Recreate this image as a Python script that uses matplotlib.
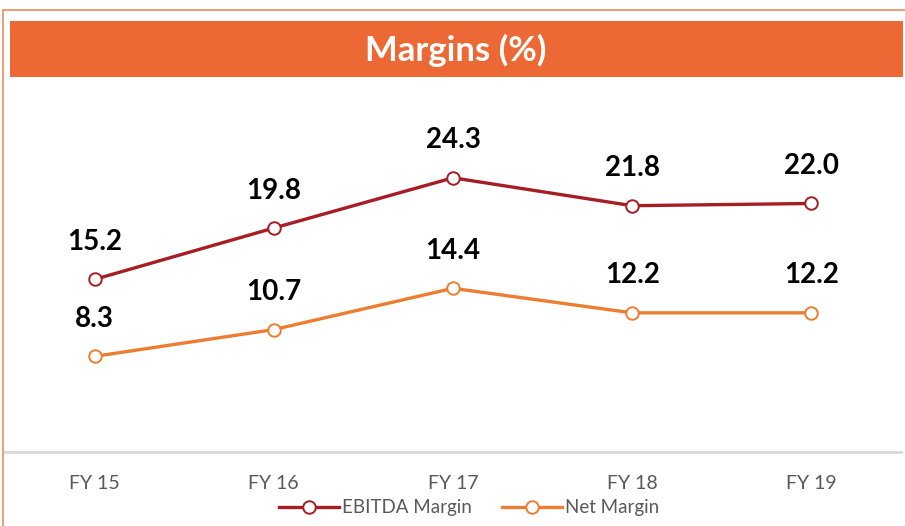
import matplotlib.pyplot as plt
from matplotlib.patches import Rectangle
from matplotlib.lines import Line2D

years = ["FY 15", "FY 16", "FY 17", "FY 18", "FY 19"]
ebitda = [15.2, 19.8, 24.3, 21.8, 22.0]
net = [8.3, 10.7, 14.4, 12.2, 12.2]

plt.rcParams['font.family'] = ['Lato', 'DejaVu Sans']

W, H = 905, 526
fig = plt.figure(figsize=(W / 100, H / 100), dpi=100)

# frame lines and title banner
fig.add_artist(Line2D([3 / W, 1], [1 - 10 / H, 1 - 10 / H], color="#EE8A5E", lw=1.2))
fig.add_artist(Line2D([3 / W, 3 / W], [0, 1 - 10 / H], color="#EE8A5E", lw=1.2))
fig.add_artist(Rectangle((10 / W, 1 - 77 / H), 893 / W, 56 / H, color="#EC6935", lw=0))
fig.text(456 / W, 1 - 50 / H, "Margins (%)", color="white", fontsize=25,
         fontweight="bold", ha="center", va="center")

# axes: 0 at y=449px, 11.16 px per unit
ymax = 30
ax = fig.add_axes([5 / W, (H - 449) / H, 896 / W, ymax * 11.16 / H])
ax.spines["bottom"].set_position(("data", -0.25))
x = range(len(years))
ax.plot(x, ebitda, color="#A61D24", lw=2.4, marker="o", ms=9,
        mfc="white", mec="#A61D24", mew=1.4, label="EBITDA Margin", clip_on=False)
ax.plot(x, net, color="#ED7D31", lw=2.4, marker="o", ms=9,
        mfc="white", mec="#ED7D31", mew=1.4, label="Net Margin", clip_on=False)

for series in (ebitda, net):
    for i, v in enumerate(series):
        ax.annotate(f"{v:.1f}", (i, v), xytext=(0, 27), textcoords="offset points",
                    ha="center", va="center", fontsize=20, fontweight="bold",
                    color="black", annotation_clip=False)

ax.set_xlim(-0.5, 4.5)
ax.set_ylim(0, ymax)
ax.set_xticks(list(x))
ax.set_xticklabels(years, fontsize=14, color="#595959")
ax.tick_params(axis="x", length=0, pad=17)
ax.set_yticks([])
for s in ["top", "right", "left"]:
    ax.spines[s].set_visible(False)
ax.spines["bottom"].set_color("#D9D9D9")
ax.spines["bottom"].set_linewidth(2)
ax.patch.set_alpha(0)

fig.legend(loc="center", bbox_to_anchor=(469 / W, 1 - 508 / H), ncol=2,
           frameon=False, fontsize=13.5, handlelength=3.2, columnspacing=1.6,
           handletextpad=0.15, labelcolor="#595959")

fig.savefig("out.png", dpi=100)
